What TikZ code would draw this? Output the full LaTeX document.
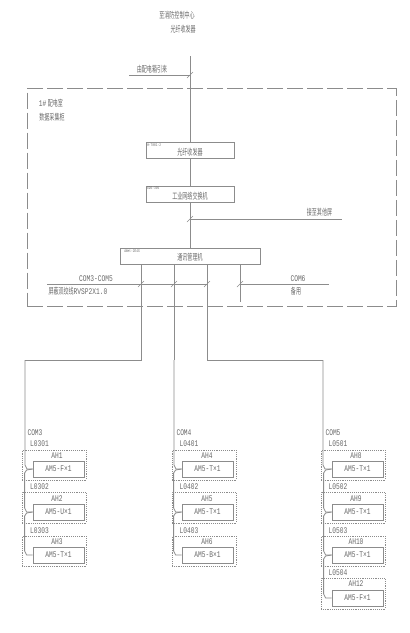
\documentclass[tikz,border=0pt]{standalone}
\usepackage{fontspec}
\usepackage{tikz}
\usetikzlibrary{positioning,calc}
\newfontfamily\cnfont[FakeStretch=0.58]{Noto Sans CJK SC}
\newfontfamily\latfont[FakeStretch=0.72]{Liberation Mono}
\definecolor{CadGray}{RGB}{140,140,140}
\definecolor{CadText}{RGB}{105,105,105}
\tikzset{
	wire/.style={draw=CadGray,line width=0.6pt},
	device/.style={draw=CadGray,line width=0.6pt,fill=white,minimum width=66pt,minimum height=11.5pt,inner sep=0pt},
	meter/.style={draw=CadGray,line width=0.6pt,minimum width=38.25pt,minimum height=12pt,inner sep=0pt,text=CadText,font=\fontsize{6.5}{7}\latfont},
	cubicle/.style={draw=CadGray,line width=0.4pt,densely dotted,minimum width=48pt,inner sep=0pt},
	room/.style={draw=CadGray,line width=0.6pt,dash pattern=on 12pt off 3pt},
	cn/.style={text=CadText,inner sep=0pt,font=\fontsize{6.5}{7}\cnfont},
	lat/.style={text=CadText,inner sep=0pt,font=\fontsize{6.5}{7}\latfont},
	tiny/.style={text=CadText,inner sep=0pt,anchor=north west,font=\fontsize{3}{3}\latfont},
	tick/.style={draw=CadGray,line width=0.4pt},
}

\begin{document}
\begin{tikzpicture}[x=0.75pt,y=-0.75pt]
	\useasboundingbox (0,0) rectangle (410,633);
	\node[room,minimum width=276.75pt,minimum height=163.5pt,inner sep=0pt] (room) at (211.5,197.5) {};
	% incoming line and devices
	\node[device,minimum width=66pt] (fiber) at (190,150.5) {};
	\node[device,minimum height=12pt] (switch) at (190,194) {};
	\node[device,minimum width=105pt] (manager) at (190,256.5) {};
	\coordinate (top) at (190,56);
	\coordinate (inleft) at (129,75);
	\coordinate (intap) at (190,75);
	\coordinate (outright) at (342,219);
	\coordinate (outtap) at (190,219);
	\draw[wire] (top)--(fiber);
	\draw[wire] (fiber)--(switch);
	\draw[wire] (switch)--(manager);
	\draw[wire] (inleft)--(intap);
	\draw[wire] (outtap)--(outright);
	\draw[tick] ($(intap)+(-3,3)$)--($(intap)+(3,-3)$);
	\draw[tick] ($(outtap)+(-3,3)$)--($(outtap)+(3,-3)$);
	\node[cn] (toplabel) at (177,15) {至消防控制中心};
	\node[cn,anchor=east] (topfiber) at (196,29.5) {光纤收发器};
	\node[cn] (inlabel) at (152,69) {由配电箱引来};
	\node[cn] (roomname) at (51,103) {\latfont 1\#\,\cnfont 配电室};
	\node[cn] (cabinet) at (52,117.5) {数据采集柜};
	\node[cn] (outlabel) at (319.5,212.5) {接至其他屏};
	\node[cn] at (190,152) (fibertext) {光纤收发器};
	\node[cn] at (190,196) (switchtext) {工业网络交换机};
	\node[cn] at (190,257.5) (managertext) {通讯管理机};
	\node[tiny] (fibertype) at (147,144) {H-7001-2};
	\node[tiny] (switchtype) at (147,187) {EDS-305};
	\node[tiny] (managertype) at (124,250) {ANet-2E4S};
	% bus lines under the manager
	\coordinate (busleft) at (47,284);
	\coordinate (busright) at (329,284);
	\coordinate (com3) at ($(manager.south)+(-49,0)$);
	\coordinate (com4) at ($(manager.south)+(-16,0)$);
	\coordinate (com5) at ($(manager.south)+(17,0)$);
	\coordinate (com6) at ($(manager.south)+(50,0)$);
	\coordinate (com3tap) at (141,284);
	\coordinate (com4tap) at (174,284);
	\coordinate (com5tap) at (207,284);
	\coordinate (com6tap) at (240,284);
	\coordinate (com6end) at (240,302);
	\coordinate (com3bend) at (141,360);
	\coordinate (com4bend) at (174,360);
	\coordinate (com5bend) at (207,360);
	\coordinate (com3far) at (25,360);
	\coordinate (com5far) at (323,360);
	\draw[wire] (busleft)--(com5tap);
	\draw[wire] (com6tap)--(busright);
	\draw[wire] (com6)--(com6end);
	\draw[wire] (com3)--(com3bend)--(com3far);
	\draw[wire] (com4)--(com4bend);
	\draw[wire] (com5)--(com5bend)--(com5far);
	\draw[tick] ($(com3tap)+(-3,3)$)--($(com3tap)+(3,-3)$);
	\draw[tick] ($(com4tap)+(-3,3)$)--($(com4tap)+(3,-3)$);
	\draw[tick] ($(com5tap)+(-3,3)$)--($(com5tap)+(3,-3)$);
	\draw[tick] ($(com6tap)+(-3,3)$)--($(com6tap)+(3,-3)$);
	\node[lat] (comrange) at (96,279) {COM3-COM5};
	\node[cn] (cable) at (78,291) {屏蔽双绞线\latfont RVSP2X1.0};
	\node[lat] (comsix) at (298,279) {COM6};
	\node[cn] (spare) at (296,291.5) {备用};
	% first column
	\begin{scope}
		\node[cubicle,minimum height=22.5pt] (p1) at (54,465) {};
		\node[cubicle,minimum height=23pt] (p2) at (54,507.5) {};
		\node[cubicle,minimum height=22.5pt] (p3) at (54,551) {};
		\node[meter] (m1) at (58.5,469) {AM5-F×1};
		\node[meter] (m2) at (58.5,512) {AM5-U×1};
		\node[meter] (m3) at (58.5,555) {AM5-T×1};
		\draw[wire] (com3far)--++(0,105)--++(2,4)--(m1.west);
		\draw[wire] (m1.west)--++(-6,1)--++(-2,3)--++(0,35)--++(2,4)--(m2.west);
		\draw[wire] (m2.west)--++(-6,1)--++(-2,3)--++(0,35)--++(2,4)--(m3.west);
		\node[lat] at (35,432.5) (c1) {COM3};
		\node[lat] at (39.5,444) (l1) {L0301};
		\node[lat] at (39.5,487) (l2) {L0302};
		\node[lat] at (39.5,530.5) (l3) {L0303};
		\node[lat] at (57,456) (a1) {AH1};
		\node[lat] at (57,498.5) (a2) {AH2};
		\node[lat] at (57,541.5) (a3) {AH3};
	\end{scope}
	% second column
	\begin{scope}
		\node[cubicle,minimum height=22.5pt] (p1) at (204,465) {};
		\node[cubicle,minimum height=23pt] (p2) at (204,507.5) {};
		\node[cubicle,minimum height=22.5pt] (p3) at (204,551) {};
		\node[meter] (m1) at (207.5,469) {AM5-T×1};
		\node[meter] (m2) at (207.5,512) {AM5-T×1};
		\node[meter] (m3) at (207.5,555) {AM5-B×1};
		\draw[wire] (com4bend)--++(0,105)--++(2,4)--(m1.west);
		\draw[wire] (m1.west)--++(-6,1)--++(-2,3)--++(0,35)--++(2,4)--(m2.west);
		\draw[wire] (m2.west)--++(-6,1)--++(-2,3)--++(0,35)--++(2,4)--(m3.west);
		\node[lat] at (184,432.5) (c1) {COM4};
		\node[lat] at (189,444) (l1) {L0401};
		\node[lat] at (189,487) (l2) {L0402};
		\node[lat] at (189,530.5) (l3) {L0403};
		\node[lat] at (207,456) (a1) {AH4};
		\node[lat] at (207,498.5) (a2) {AH5};
		\node[lat] at (207,541.5) (a3) {AH6};
	\end{scope}
	% third column
	\begin{scope}
		\node[cubicle,minimum height=22.5pt] (p1) at (353,465) {};
		\node[cubicle,minimum height=23pt] (p2) at (353,507.5) {};
		\node[cubicle,minimum height=22.5pt] (p3) at (353,551) {};
		\node[cubicle,minimum height=23pt] (p4) at (353,593.5) {};
		\node[meter] (m1) at (357.5,469) {AM5-T×1};
		\node[meter] (m2) at (357.5,512) {AM5-T×1};
		\node[meter] (m3) at (357.5,555) {AM5-T×1};
		\node[meter] (m4) at (357.5,598) {AM5-F×1};
		\draw[wire] (com5far)--++(0,105)--++(2,4)--(m1.west);
		\draw[wire] (m1.west)--++(-6,1)--++(-2,3)--++(0,35)--++(2,4)--(m2.west);
		\draw[wire] (m2.west)--++(-6,1)--++(-2,3)--++(0,35)--++(2,4)--(m3.west);
		\draw[wire] (m3.west)--++(-6,1)--++(-2,3)--++(0,35)--++(2,4)--(m4.west);
		\node[lat] at (333,432.5) (c1) {COM5};
		\node[lat] at (338,444) (l1) {L0501};
		\node[lat] at (338,487) (l2) {L0502};
		\node[lat] at (338,530.5) (l3) {L0503};
		\node[lat] at (338,573) (l4) {L0504};
		\node[lat] at (356,456) (a1) {AH8};
		\node[lat] at (356,498.5) (a2) {AH9};
		\node[lat] at (356,541.5) (a3) {AH10};
		\node[lat] at (356,584) (a4) {AH12};
	\end{scope}
\end{tikzpicture}
\end{document}
